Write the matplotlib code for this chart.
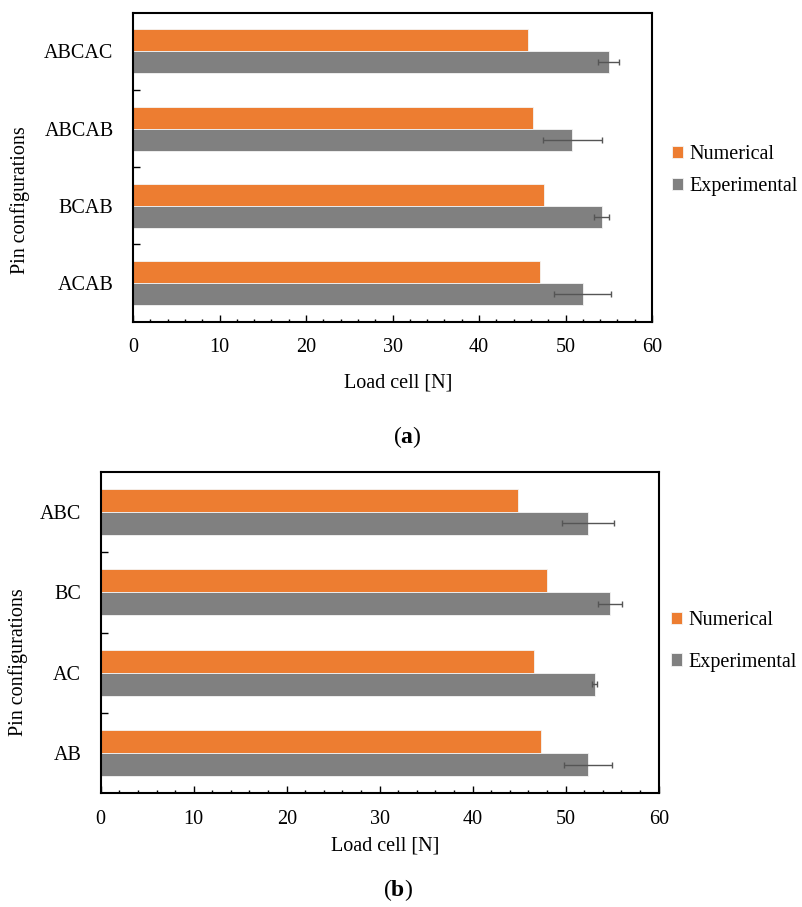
import matplotlib
matplotlib.use("Agg")
import matplotlib.pyplot as plt
import numpy as np
from matplotlib.ticker import MultipleLocator, FixedLocator

plt.rcParams["font.family"] = ["Liberation Serif", "DejaVu Serif"]
plt.rcParams["mathtext.fontset"] = "custom"
plt.rcParams["mathtext.bf"] = "Liberation Serif:bold"
plt.rcParams["mathtext.rm"] = "Liberation Serif"

# panel (a)
top_cats = ["ACAB", "BCAB", "ABCAB", "ABCAC"]
top_num = [47.1, 47.5, 46.2, 45.7]
top_exp = [52.0, 54.2, 50.8, 55.0]
top_err = [3.3, 0.85, 3.4, 1.2]

# panel (b)
bot_cats = ["AB", "AC", "BC", "ABC"]
bot_num = [47.3, 46.6, 48.0, 44.9]
bot_exp = [52.4, 53.1, 54.8, 52.4]
bot_err = [2.6, 0.3, 1.3, 2.8]

ORANGE = "#ED7D31"
GRAY = "#808080"
FS = 14.5

W, H = 802, 907
fig = plt.figure(figsize=(W / 100, H / 100), dpi=100)


def px_rect(l, t, r, b):
    return [l / W, 1 - b / H, (r - l) / W, (b - t) / H]


def panel(rect, cats, num, exp, err, leg_anchor, leg_spacing):
    ax = fig.add_axes(rect)
    y = np.arange(len(cats))
    h = 0.285
    ax.barh(y + h / 2, num, height=h, color=ORANGE, edgecolor="#f4f4f4", linewidth=0.6, label="Numerical")
    ax.barh(y - h / 2, exp, height=h, color=GRAY, edgecolor="#f4f4f4", linewidth=0.6, label="Experimental")
    ax.errorbar(exp, y - h / 2, xerr=err, fmt="none", ecolor="#555555", elinewidth=1.0, capsize=2.5, capthick=1.0)
    ax.set_xlim(0, 60)
    ax.set_ylim(-0.5, len(cats) - 0.5)
    ax.set_yticks(y, cats)
    ax.yaxis.set_minor_locator(FixedLocator(y[:-1] + 0.5))
    ax.xaxis.set_major_locator(MultipleLocator(10))
    ax.xaxis.set_minor_locator(MultipleLocator(2))
    ax.tick_params(axis="y", which="major", length=0, pad=14, labelsize=FS)
    ax.tick_params(axis="y", which="minor", direction="in", length=5, width=1)
    ax.tick_params(axis="x", which="major", direction="in", length=5, width=1, pad=12, labelsize=FS)
    ax.tick_params(axis="x", which="minor", direction="in", length=2.5, width=1)
    for s in ax.spines.values():
        s.set_linewidth(1.5)
        s.set_color("black")
    ax.legend(loc="center left", bbox_to_anchor=leg_anchor, frameon=False, fontsize=FS,
              handlelength=0.55, handleheight=0.55, handletextpad=0.3,
              labelspacing=leg_spacing, borderpad=0, borderaxespad=0)
    return ax


ax1 = panel(px_rect(133, 12.7, 652, 321.7), top_cats, top_num, top_exp, top_err, (1.0385, 0.488), 0.65)
ax2 = panel(px_rect(100.7, 471.7, 658.7, 793.3), bot_cats, bot_num, bot_exp, bot_err, (1.022, 0.472), 1.1)

fig.text(397.8 / W, 1 - 383 / H, "Load cell [N]", ha="center", va="center", fontsize=FS)
fig.text(385.5 / W, 1 - 846 / H, "Load cell [N]", ha="center", va="center", fontsize=FS)
fig.text(20 / W, 1 - 200 / H, "Pin configurations", rotation=90, ha="center", va="center", fontsize=FS)
fig.text(18 / W, 1 - 662 / H, "Pin configurations", rotation=90, ha="center", va="center", fontsize=FS)

fig.text(407 / W, 1 - 437 / H, r"($\mathbf{a}$)", ha="center", va="center", fontsize=17)
fig.text(398 / W, 1 - 890 / H, r"($\mathbf{b}$)", ha="center", va="center", fontsize=17)

fig.savefig("out.png", dpi=100)
